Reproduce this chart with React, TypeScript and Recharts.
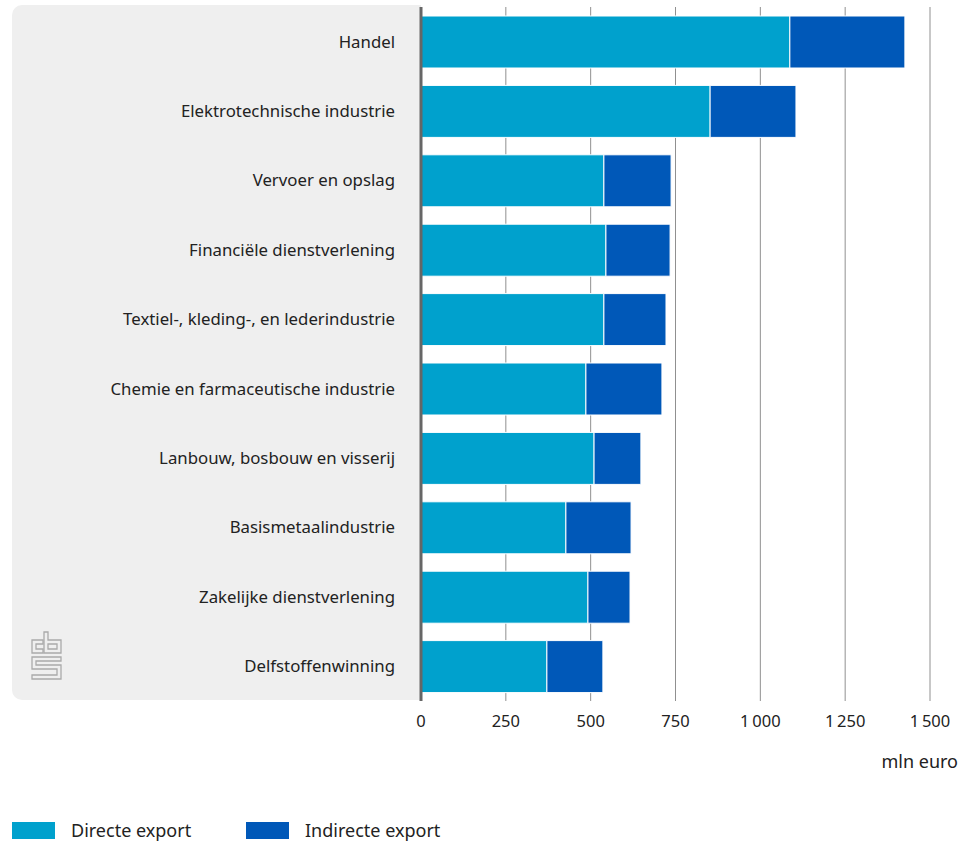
import { BarChart, Bar, XAxis, YAxis, CartesianGrid, ReferenceLine } from "recharts";

const sectors = [
  "Handel",
  "Elektrotechnische industrie",
  "Vervoer en opslag",
  "Financiële dienstverlening",
  "Textiel-, kleding-, en lederindustrie",
  "Chemie en farmaceutische industrie",
  "Lanbouw, bosbouw en visserij",
  "Basismetaalindustrie",
  "Zakelijke dienstverlening",
  "Delfstoffenwinning",
];
const directExport = [1087, 852, 539, 545, 539, 486, 510, 427, 492, 371];
const indirectExport = [339, 253, 198, 189, 183, 224, 138, 192, 124, 165];
const xTicks = [0, 250, 500, 750, 1000, 1250, 1500];

const data = sectors.map((name, i) => ({
  name,
  direct: directExport[i],
  indirect: indirectExport[i],
}));

const DIRECT = "#00a1cd";
const INDIRECT = "#0058b8";
const FONT = "'Noto Sans', sans-serif";

const fmt = (v: number) => String(v).replace(/\B(?=(\d{3})+(?!\d))/g, "\u2009");

// cbs logo, rough outline
const Logo = () => (
  <svg
    width={40}
    height={56}
    viewBox="28 628 40 56"
    style={{ position: "absolute", left: 28, top: 628 }}
  >
    <g fill="none" stroke="#aaa" strokeWidth={1.3}>
      <path d="M43,640 H32 V653 H43 V649 H36 V644 H43 Z" />
      <path d="M44,632 H48 V640 H61 V653 H44 Z" />
      <path d="M48,644 H57 V649 H48 Z" />
      <path d="M32,657 H61 V661 H36 V665 H61 V679 H32 V675 H57 V669 H32 Z" />
    </g>
  </svg>
);

export default function App() {
  return (
    <div
      style={{
        position: "absolute",
        left: 0,
        top: 0,
        width: 968,
        height: 843,
        fontFamily: FONT,
        color: "#222",
      }}
    >
      <div
        style={{
          position: "absolute",
          left: 12,
          top: 5,
          width: 409,
          height: 695,
          background: "#efefef",
          borderRadius: "10px 0 0 10px",
        }}
      />
      <Logo />
      <div style={{ position: "absolute", left: 0, top: 0 }}>
        <BarChart
          layout="vertical"
          width={968}
          height={843}
          data={data}
          margin={{ top: 7, right: 38, bottom: 112, left: 0 }}
          barSize={52}
        >
          <CartesianGrid horizontal={false} vertical stroke="#909090" />
          <XAxis
            type="number"
            domain={[0, 1500]}
            ticks={xTicks}
            tickFormatter={fmt}
            axisLine={false}
            tickLine={false}
            tickMargin={8}
            height={30}
            tick={{ fill: "#222", fontSize: 16.5, fontFamily: FONT }}
          />
          <YAxis
            type="category"
            dataKey="name"
            width={421}
            axisLine={false}
            tickLine={false}
            tickMargin={20}
            interval={0}
            tick={{ fill: "#222", fontSize: 16.8, fontFamily: FONT }}
          />
          <Bar
            dataKey="direct"
            stackId="a"
            fill={DIRECT}
            stroke="#fff"
            strokeWidth={1}
            isAnimationActive={false}
          />
          <Bar
            dataKey="indirect"
            stackId="a"
            fill={INDIRECT}
            stroke="#fff"
            strokeWidth={1}
            isAnimationActive={false}
          />
          <ReferenceLine x={0} stroke="#666" strokeWidth={3} />
        </BarChart>
      </div>
      <div
        style={{
          position: "absolute",
          right: 10,
          top: 749,
          fontSize: 18,
        }}
      >
        mln euro
      </div>
      <div
        style={{
          position: "absolute",
          left: 12,
          top: 818,
          display: "flex",
          alignItems: "center",
          fontSize: 18,
        }}
      >
        <span style={{ width: 43, height: 17, background: DIRECT, display: "inline-block" }} />
        <span style={{ marginLeft: 16, width: 175 }}>Directe export</span>
        <span style={{ width: 43, height: 17, background: INDIRECT, display: "inline-block" }} />
        <span style={{ marginLeft: 16 }}>Indirecte export</span>
      </div>
    </div>
  );
}
